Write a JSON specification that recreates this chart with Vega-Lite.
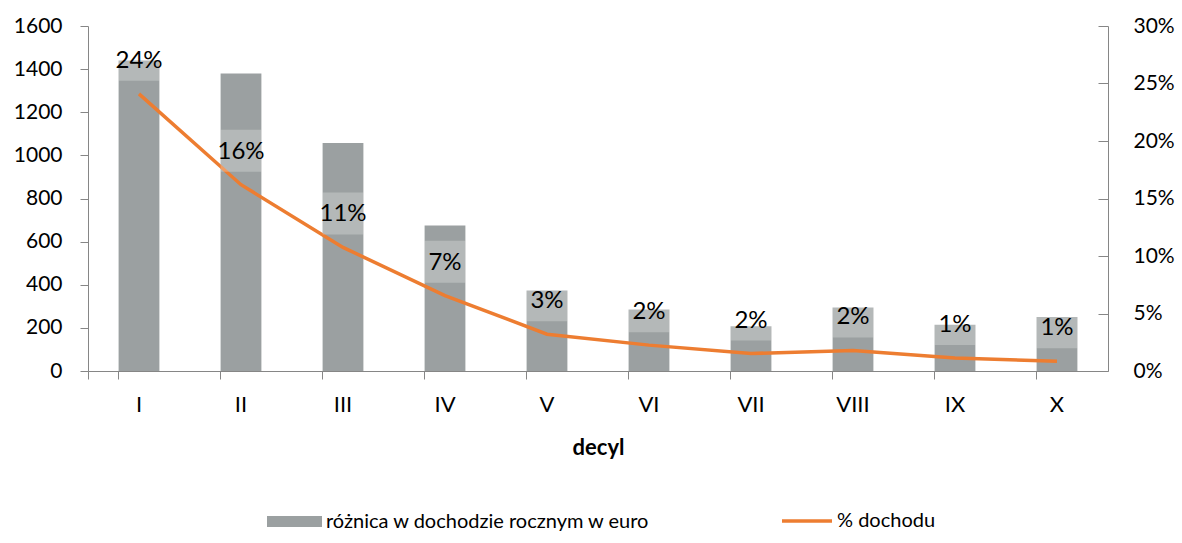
{
  "$schema": "https://vega.github.io/schema/vega-lite/v6.json",
  "width": 1020,
  "height": 345,
  "autosize": {"type": "none"},
  "padding": {"left": 88, "top": 26, "right": 74, "bottom": 172},
  "background": "white",
  "config": {
    "font": "Lato",
    "view": {"stroke": null},
    "axis": {
      "labelFont": "Lato",
      "titleFont": "Lato",
      "labelColor": "black",
      "titleColor": "black",
      "domainColor": "#868686",
      "tickColor": "#868686",
      "grid": false,
      "labelFontSize": 21
    },
    "legend": {"labelFont": "Lato", "labelColor": "black", "labelFontSize": 20, "labelLimit": 0}
  },
  "data": {
    "values": [
      {"decyl": "I", "roznica": 1440, "pct": 0.241},
      {"decyl": "II", "roznica": 1380, "pct": 0.162},
      {"decyl": "III", "roznica": 1057, "pct": 0.1075},
      {"decyl": "IV", "roznica": 675, "pct": 0.0655},
      {"decyl": "V", "roznica": 373, "pct": 0.032},
      {"decyl": "VI", "roznica": 285, "pct": 0.0225},
      {"decyl": "VII", "roznica": 207, "pct": 0.0152},
      {"decyl": "VIII", "roznica": 295, "pct": 0.0179},
      {"decyl": "IX", "roznica": 215, "pct": 0.0113},
      {"decyl": "X", "roznica": 251, "pct": 0.0084}
    ]
  },
  "encoding": {
    "x": {
      "field": "decyl",
      "type": "ordinal",
      "sort": null,
      "scale": {"paddingInner": 0.6, "paddingOuter": 0.3},
      "axis": {
        "title": "decyl",
        "titleFontWeight": "bold",
        "titleFontSize": 22,
        "titlePadding": 22,
        "labelAngle": 0,
        "labelFontSize": 22,
        "bandPosition": 0,
        "tickExtra": true,
        "tickSize": 8,
        "labelPadding": 15
      }
    }
  },
  "layer": [
    {
      "mark": {"type": "bar", "color": "#9BA0A1"},
      "encoding": {
        "y": {
          "field": "roznica",
          "type": "quantitative",
          "scale": {"domain": [0, 1600]},
          "axis": {"title": null, "values": [0, 200, 400, 600, 800, 1000, 1200, 1400, 1600], "tickSize": 8, "labelPadding": 18, "format": "d"}
        },
        "fill": {
          "datum": "różnica w dochodzie rocznym w euro",
          "scale": {"range": ["#9BA0A1"]},
          "legend": {
            "orient": "none",
            "legendX": 179,
            "legendY": 468,
            "title": null,
            "padding": 0,
            "symbolType": "M-1,-0.2H1V0.2H-1Z",
            "symbolSize": 3025,
            "symbolStrokeWidth": 0,
            "labelOffset": 4
          }
        }
      }
    },
    {
      "mark": {"type": "line", "color": "#ED7D31", "strokeWidth": 3.5},
      "encoding": {
        "y": {
          "field": "pct",
          "type": "quantitative",
          "scale": {"domain": [0, 0.3]},
          "axis": {"orient": "right", "title": null, "format": ".0%", "values": [0, 0.05, 0.1, 0.15, 0.2, 0.25, 0.3], "tickSize": -10, "labelPadding": 35}
        },
        "stroke": {
          "datum": "% dochodu",
          "scale": {"range": ["#ED7D31"]},
          "legend": {
            "orient": "none",
            "legendX": 692,
            "legendY": 468,
            "title": null,
            "padding": 0,
            "symbolType": "stroke",
            "symbolSize": 2500,
            "symbolStrokeWidth": 3.5,
            "labelOffset": 3
          }
        }
      }
    },
    {
      "mark": {"type": "bar", "fill": "white", "opacity": 0.25, "yOffset": -55, "y2Offset": -13},
      "encoding": {
        "y": {"field": "pct", "type": "quantitative", "scale": {"domain": [0, 0.3]}, "axis": null},
        "y2": {"field": "pct"}
      }
    },
    {
      "mark": {"type": "text", "fontSize": 24, "yOffset": -33, "baseline": "middle", "align": "center", "color": "black"},
      "encoding": {
        "y": {"field": "pct", "type": "quantitative", "scale": {"domain": [0, 0.3]}, "axis": null},
        "text": {"field": "pct", "type": "quantitative", "format": ".0%"}
      }
    }
  ],
  "resolve": {"scale": {"y": "independent", "fill": "independent", "stroke": "independent"}}
}
